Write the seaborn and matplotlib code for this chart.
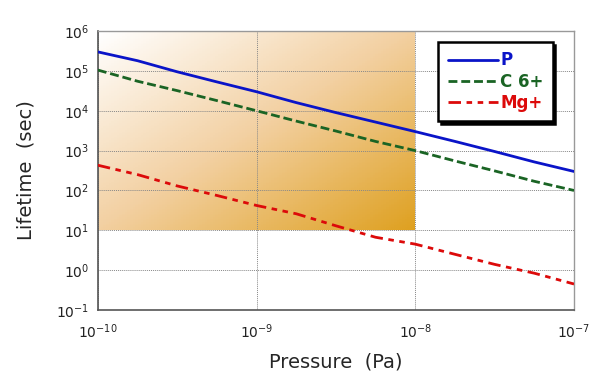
import numpy as np
import pandas as pd
import matplotlib
matplotlib.use("Agg")
import matplotlib.pyplot as plt
from matplotlib.colors import LinearSegmentedColormap
import seaborn as sns

# pressure grid (Pa), quarter decades
pressure = [1e-10, 1.78e-10, 3.16e-10, 5.62e-10, 1e-9, 1.78e-9, 3.16e-9,
            5.62e-9, 1e-8, 1.78e-8, 3.16e-8, 5.62e-8, 1e-7]

# lifetimes (sec)
life_p = [3.0e5, 1.8e5, 9.5e4, 5.3e4, 3.0e4, 1.6e4, 9.0e3, 5.2e3, 3.0e3,
          1.7e3, 9.5e2, 5.2e2, 3.0e2]
life_c6 = [1.05e5, 5.5e4, 3.2e4, 1.8e4, 1.0e4, 5.5e3, 3.1e3, 1.7e3, 1.0e3,
           5.5e2, 3.1e2, 1.7e2, 1.0e2]
life_mg = [430, 250, 130, 75, 42, 26, 13, 6.7, 4.5, 2.5, 1.4, 0.84, 0.45]

labels = ["P", "C 6+", "Mg+"]
colors = ["#0a14c8", "#1a6424", "#dc0a0a"]
styles = ["-", (0, (3.2, 1.4)), (0, (4.5, 2, 2, 2, 2, 2))]

x_ticks = [1e-10, 1e-9, 1e-8, 1e-7]
y_ticks = [1e-1, 1e0, 1e1, 1e2, 1e3, 1e4, 1e5, 1e6]

# shaded region
shade_x = [1e-10, 1e-8]
shade_y = [1e1, 1e6]

sns.set_style("white")
plt.rcParams['font.family'] = ['DejaVu Sans']

fig = plt.figure(figsize=(5.93, 3.74), dpi=100)
ax = fig.add_axes([0.165, 0.171, 0.803, 0.746])
ax.set_xscale("log")
ax.set_yscale("log")

# gradient box: white at top-left to gold at bottom-right
gx = np.logspace(np.log10(shade_x[0]), np.log10(shade_x[1]), 120)
gy = np.logspace(np.log10(shade_y[0]), np.log10(shade_y[1]), 120)
u = np.linspace(0, 1, 119)
v = np.linspace(0, 1, 119)
U, V = np.meshgrid(u, v)
C = (U + (1 - V)) / 2
cmap = LinearSegmentedColormap.from_list(
    "shade", [(0, "#ffffff"), (0.5, "#f2cfa0"), (1, "#dea020")])
ax.pcolormesh(gx, gy, C, cmap=cmap, shading="flat", zorder=0.5,
              rasterized=True)

series = [life_p, life_c6, life_mg]
for vals, lab, col, ls in zip(series, labels, colors, styles):
    df = pd.DataFrame({"Pressure": pressure, "Lifetime": vals})
    sns.lineplot(data=df, x="Pressure", y="Lifetime", ax=ax, color=col,
                 linestyle=ls, linewidth=2.0, label=lab, zorder=3)

ax.set_xlim(1e-10, 1e-7)
ax.set_ylim(1e-1, 1e6)
ax.set_xticks(x_ticks)
ax.set_yticks(y_ticks)
ax.set_axisbelow("line")
ax.grid(True, which="major", color="#888888", linestyle=(0, (1, 1)),
        linewidth=0.7)
ax.minorticks_off()
ax.tick_params(length=0, labelsize=10, colors="#222222")
ax.tick_params(axis="y", pad=6)
ax.tick_params(axis="x", pad=9)

for s in ["left", "bottom"]:
    ax.spines[s].set_color("#555555")
    ax.spines[s].set_linewidth(1.2)
for s in ["top", "right"]:
    ax.spines[s].set_color("#999999")
    ax.spines[s].set_linewidth(1.0)

ax.set_xlabel("Pressure  (Pa)", fontsize=14, labelpad=8)
ax.set_ylabel("Lifetime  (sec)", fontsize=14, labelpad=15)

leg = ax.legend(loc="upper right", bbox_to_anchor=(0.955, 0.96),
                fancybox=False, shadow={"color": "black", "alpha": 1},
                framealpha=1, edgecolor="black", handlelength=3.0,
                handletextpad=0.15, borderpad=0.55, labelspacing=0.2,
                fontsize=12, borderaxespad=0)
leg.get_frame().set_linewidth(1.8)
for txt, col in zip(leg.get_texts(), colors):
    txt.set_color(col)
    txt.set_fontweight("bold")

fig.savefig("out.png", dpi=100)
